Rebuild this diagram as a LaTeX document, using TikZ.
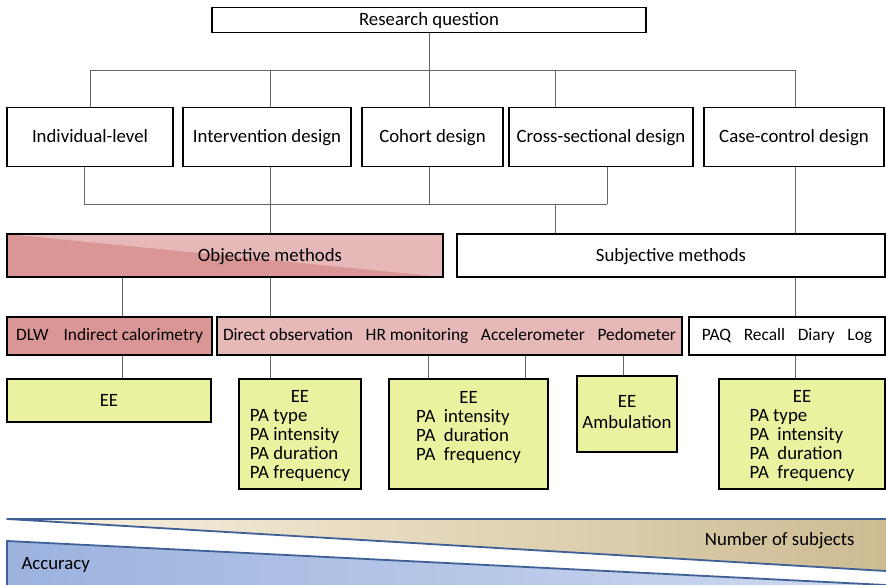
\documentclass[tikz,border=0pt]{standalone}
\usepackage{fontspec}
\setmainfont{Carlito}
\usepackage{tikz}

\definecolor{objdark}{HTML}{D99694}
\definecolor{objlight}{HTML}{E6B9B8}
\definecolor{resfill}{HTML}{EAF2A0}
\definecolor{wedgeline}{HTML}{3E6096}
\definecolor{tanL}{HTML}{F9F3E3}
\definecolor{tanM}{HTML}{EFE7D0}
\definecolor{tanR}{HTML}{CDBB92}
\definecolor{bluL}{HTML}{9CB2DE}
\definecolor{bluR}{HTML}{CFDAF0}

\tikzset{
  box/.style={draw=black, line width=1.6pt, fill=white, inner sep=2pt},
  oneline/.style={text height=15.5pt, text depth=4pt},
  design/.style={box, oneline, minimum height=59pt},
  method/.style={box, minimum height=38pt, text height=13pt, text depth=4pt,
    font=\fontsize{17.4}{19}\selectfont},
  result/.style={box, fill=resfill},
  objbar/.style={box, oneline, fill=objdark, minimum height=43pt,
    path picture={\fill[objlight] (path picture bounding box.north west)
      -- (path picture bounding box.north east)
      -- (path picture bounding box.south east) -- cycle;}},
  link/.style={draw=black!60, line width=0.9pt},
  wedge/.style={draw=wedgeline, line width=1.8pt, line cap=round, line join=round}
}

\begin{document}
\begin{tikzpicture}[x=1pt, y=-1pt, font=\fontsize{18.8}{19}\selectfont]
  \useasboundingbox (0,0) rectangle (886,585);

  % question and study designs
  \node[box, oneline, minimum width=434pt, minimum height=25pt] (rq) at (429,20) {Research question};
  \node[design, minimum width=166pt] (ind) at (90,137) {Individual-level};
  \node[design, minimum width=168pt] (int) at (267,137) {Intervention design};
  \node[design, minimum width=141pt] (coh) at (432.5,137) {Cohort design};
  \node[design, minimum width=184pt] (cro) at (601,137) {Cross-sectional design};
  \node[design, minimum width=180pt] (cas) at (794,137) {Case-control design};

  \coordinate (tbusL) at (90,70);
  \coordinate (tbusR) at (795,70);
  \draw[link] (rq) -- (rq |- tbusL);
  \draw[link] (tbusL) -- (tbusR);
  \foreach \x/\n in {90/ind, 270/int, 429/coh, 555/cro, 795/cas}
    \draw[link] (\x,70) -- (\n.north -| \x,0);

  % methods
  \node[objbar, minimum width=436pt] (obj) at (225,255.5) {\hspace*{90pt}Objective methods};
  \node[box, oneline, minimum width=428pt, minimum height=43pt] (subj) at (671,255.5) {Subjective methods};

  \coordinate (bbusL) at (84,204);
  \coordinate (bbusR) at (607,204);
  \draw[link] (bbusL) -- (bbusR);
  \foreach \x/\n in {84/ind, 270/int, 429/coh, 607/cro}
    \draw[link] (\n.south -| \x,0) -- (\x,204);
  \draw[link] (270,204) -- (obj.north -| 270,0);
  \draw[link] (555,204) -- (subj.north -| 555,0);
  \draw[link] (cas.south -| 795,0) -- (subj.north -| 795,0);

  \node[method, fill=objdark, minimum width=205pt] (dlw) at (109.5,336) {DLW\hspace{11pt}\ Indirect calorimetry};
  \node[method, fill=objlight, minimum width=465pt] (dir) at (449.5,336)
    {Direct observation\enspace\ HR monitoring\enspace\ Accelerometer\enspace\ Pedometer};
  \node[method, minimum width=196pt] (paq) at (787,336) {PAQ\enspace\ Recall\enspace\ Diary\enspace\ Log};

  \draw[link] (obj.south -| 122,0) -- (dlw.north -| 122,0);
  \draw[link] (obj.south -| 270,0) -- (dir.north -| 270,0);
  \draw[link] (subj.south -| 795,0) -- (paq.north -| 795,0);

  % what each method gives
  \node[result, oneline, minimum width=204pt, minimum height=43pt] (ee1) at (109,400.5) {EE};
  \node[result, minimum width=122pt, minimum height=110pt] (ee2) at (300,434)
    {\begin{tabular}{@{}l@{}}\noalign{\vskip6pt}\multicolumn{1}{@{}c@{}}{EE}\\PA type\\PA intensity\\PA duration\\PA frequency\end{tabular}};
  \node[result, minimum width=159pt, minimum height=110pt] (ee3) at (468.5,434)
    {\begin{tabular}{@{}l@{}}\noalign{\vskip4pt}\multicolumn{1}{@{}c@{}}{EE}\\PA\ \ intensity\\PA\ \ duration\\PA\ \ frequency\\[15pt]\end{tabular}};
  \node[result, minimum width=100pt, minimum height=76pt] (ee4) at (627,414)
    {\begin{tabular}{@{}c@{}}EE\\[2pt]Ambulation\end{tabular}};
  \node[result, minimum width=166pt, minimum height=110pt] (ee5) at (802,434)
    {\begin{tabular}{@{}l@{}}\noalign{\vskip6pt}\multicolumn{1}{@{}c@{}}{EE}\\PA type\\PA\ \ intensity\\PA\ \ duration\\PA\ \ frequency\end{tabular}};

  \draw[link] (dlw.south -| 122,0) -- (ee1.north -| 122,0);
  \draw[link] (dir.south -| 270,0) -- (ee2.north -| 270,0);
  \draw[link] (dir.south -| 428,0) -- (ee3.north -| 428,0);
  \draw[link] (dir.south -| 525,0) -- (ee3.north -| 525,0);
  \draw[link] (dir.south -| 623,0) -- (ee4.north -| 623,0);
  \draw[link] (paq.south -| 795,0) -- (ee5.north -| 795,0);

  % trade-off wedges
  \shade[left color=tanL, middle color=tanM, right color=tanR] (7,519) -- (886,519) -- (886,571) -- cycle;
  \draw[wedge] (886,519) -- (7,519) -- (886,571);
  \node[anchor=east] (nsub) at (858,541) {Number of subjects};

  \shade[left color=bluL, right color=bluR] (7,541) -- (886,585) -- (7,585) -- cycle;
  \draw[wedge] (7,590) -- (7,541) -- (886,585);
  \node[anchor=west] (acc) at (18,565) {Accuracy};
\end{tikzpicture}
\end{document}
